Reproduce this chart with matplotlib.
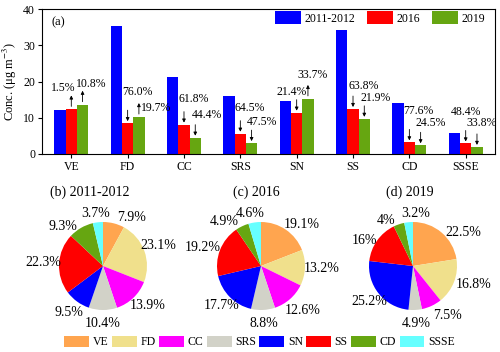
import matplotlib
matplotlib.use("Agg")
import matplotlib.pyplot as plt
from matplotlib.patches import Patch
import numpy as np

# ---------------- data ----------------
categories = ["VE", "FD", "CC", "SRS", "SN", "SS", "CD", "SSSE"]
series_names = ["2011-2012", "2016", "2019"]
conc_2011_2012 = [12.1, 35.3, 21.3, 15.9, 14.5, 34.2, 14.2, 5.7]
conc_2016 = [12.3, 8.5, 8.1, 5.6, 11.4, 12.4, 3.2, 2.9]
conc_2019 = [13.6, 10.2, 4.5, 3.0, 15.2, 9.7, 2.4, 1.95]
change_2016 = ["1.5%", "76.0%", "61.8%", "64.5%", "21.4%", "63.8%", "77.6%", "48.4%"]
change_2019 = ["10.8%", "19.7%", "44.4%", "47.5%", "33.7%", "21.9%", "24.5%", "33.8%"]

pie_titles = ["(b) 2011-2012", "(c) 2016", "(d) 2019"]
share_2011_2012 = [7.9, 23.1, 13.9, 10.4, 9.5, 22.3, 9.3, 3.7]
share_2016 = [19.1, 13.2, 12.6, 8.8, 17.7, 19.2, 4.9, 4.6]
share_2019 = [22.5, 16.8, 7.5, 4.9, 25.2, 16, 4, 3.2]
y_ticks = [0, 10, 20, 30, 40]

# ---------------- style / layout ----------------
plt.rcParams["font.family"] = ["Liberation Serif", "DejaVu Serif"]
plt.rcParams["mathtext.fontset"] = "stix"
FS = 8.5
bar_colors = ["#0000FF", "#FF0000", "#66A611"]
pie_colors = ["#FFA54F", "#F0E08C", "#FF00FF", "#D2D2C8",
              "#0000FF", "#FF0000", "#66A611", "#66FFFF"]

# label offsets (pixels) relative to bar top centre
off_2016 = [(-8, 21), (10, 31), (10, 26), (9, 26), (-5, 21), (11, 23), (9, 31), (0, 31)]
off_2019 = [(9, 21), (17, 9), (12, 23), (10, 21), (5, 24), (11, 21), (10, 22), (5, 24)]
# pie label angular nudges (deg) and radial distance factors
pie_nudge = [[-16, 0, 5, 0, 0, 0, 16, 1],
             [-10, 0, 2, 0, 0, 4, 14, 3],
             [-16, 4, 10, 0, 0, 8, 12, -9]]
pie_dist = [[1.28, 1.33, 1.35, 1.3, 1.3, 1.36, 1.28, 1.2],
            [1.33, 1.38, 1.38, 1.3, 1.28, 1.38, 1.3, 1.22],
            [1.36, 1.45, 1.38, 1.3, 1.28, 1.25, 1.2, 1.2]]

W, H = 500, 352
fig = plt.figure(figsize=(W / 100, H / 100), dpi=100)

# ---------------- bar chart ----------------
ax = fig.add_axes([42 / W, 1 - 154 / H, 453 / W, 145 / H])
x = np.arange(len(categories))
bw = 0.2
series = [conc_2011_2012, conc_2016, conc_2019]
for j, vals in enumerate(series):
    ax.bar(x + (j - 1) * bw, vals, bw, color=bar_colors[j], label=series_names[j])
ax.set_xlim(-0.52, len(categories) - 0.48)
ax.set_ylim(0, 40)
ax.set_yticks(y_ticks)
ax.set_xticks(x)
ax.set_xticklabels(categories)
ax.tick_params(direction="out", length=3, width=0.8, labelsize=FS, pad=2)
for s in ax.spines.values():
    s.set_linewidth(0.8)
ax.set_ylabel("Conc. (μg m$^{-3}$)", fontsize=FS + 0.5, labelpad=3)
ax.text(0.02, 0.95, "(a)", transform=ax.transAxes, fontsize=FS + 0.5, va="top", ha="left")

px = 40 / 145.0  # data units per pixel
def annotate(xc, prev, cur, text, off):
    if cur < prev:
        ax.annotate("", xy=(xc, cur + 2 * px), xytext=(xc, cur + 13 * px),
                    arrowprops=dict(arrowstyle="-|>", lw=0.6, color="black",
                                    mutation_scale=5, shrinkA=0, shrinkB=0))
    else:
        ax.annotate("", xy=(xc, cur + 14 * px), xytext=(xc, cur + 3 * px),
                    arrowprops=dict(arrowstyle="-|>", lw=0.6, color="black",
                                    mutation_scale=5, shrinkA=0, shrinkB=0))
    ax.annotate(text, xy=(xc, cur), xytext=off, textcoords="offset pixels",
                ha="center", va="center", fontsize=FS)

for i in range(len(categories)):
    annotate(x[i], conc_2011_2012[i], conc_2016[i], change_2016[i], off_2016[i])
    annotate(x[i] + bw, conc_2016[i], conc_2019[i], change_2019[i], off_2019[i])

ax.legend(loc="center right", bbox_to_anchor=(1.0, 1 - 9 / 145), ncol=3, frameon=False,
          fontsize=FS, handlelength=2.2, handleheight=1.2, handletextpad=0.3,
          columnspacing=1.0, borderpad=0.2, borderaxespad=0.6)

# ---------------- pies ----------------
centers = [(103, 266), (261, 266), (413, 266)]
title_x = [90, 256, 410]
r = 44
shares = [share_2011_2012, share_2016, share_2019]
for k in range(3):
    cx, cy = centers[k]
    pa = fig.add_axes([(cx - r) / W, 1 - (cy + r) / H, 2 * r / W, 2 * r / H])
    vals = np.array(shares[k], dtype=float)
    pa.pie(vals, colors=pie_colors, startangle=90, counterclock=False,
           wedgeprops=dict(linewidth=0))
    frac = vals / vals.sum()
    cum = np.cumsum(frac) - frac / 2
    for i, v in enumerate(vals):
        ang = np.deg2rad(90 - 360 * cum[i] + pie_nudge[k][i])
        d = pie_dist[k][i]
        pa.text(d * np.cos(ang), d * np.sin(ang), "%g%%" % v, ha="center", va="center",
                fontsize=10)
    pa.set_xlim(-1, 1)
    pa.set_ylim(-1, 1)
    pa.set_aspect("equal")
    pa.axis("off")
    fig.text(title_x[k] / W, 1 - 192 / H, pie_titles[k], ha="center", va="center", fontsize=10)

handles = [Patch(facecolor=c, edgecolor="none", label=l) for c, l in zip(pie_colors, categories)]
fig.legend(handles=handles, loc="center", bbox_to_anchor=(259.5 / W, 1 - 342 / H), ncol=8,
           frameon=False, fontsize=FS, handlelength=2.1, handleheight=1.1,
           handletextpad=0.3, columnspacing=0.3, borderpad=0.1)

fig.savefig("out.png", dpi=100)
